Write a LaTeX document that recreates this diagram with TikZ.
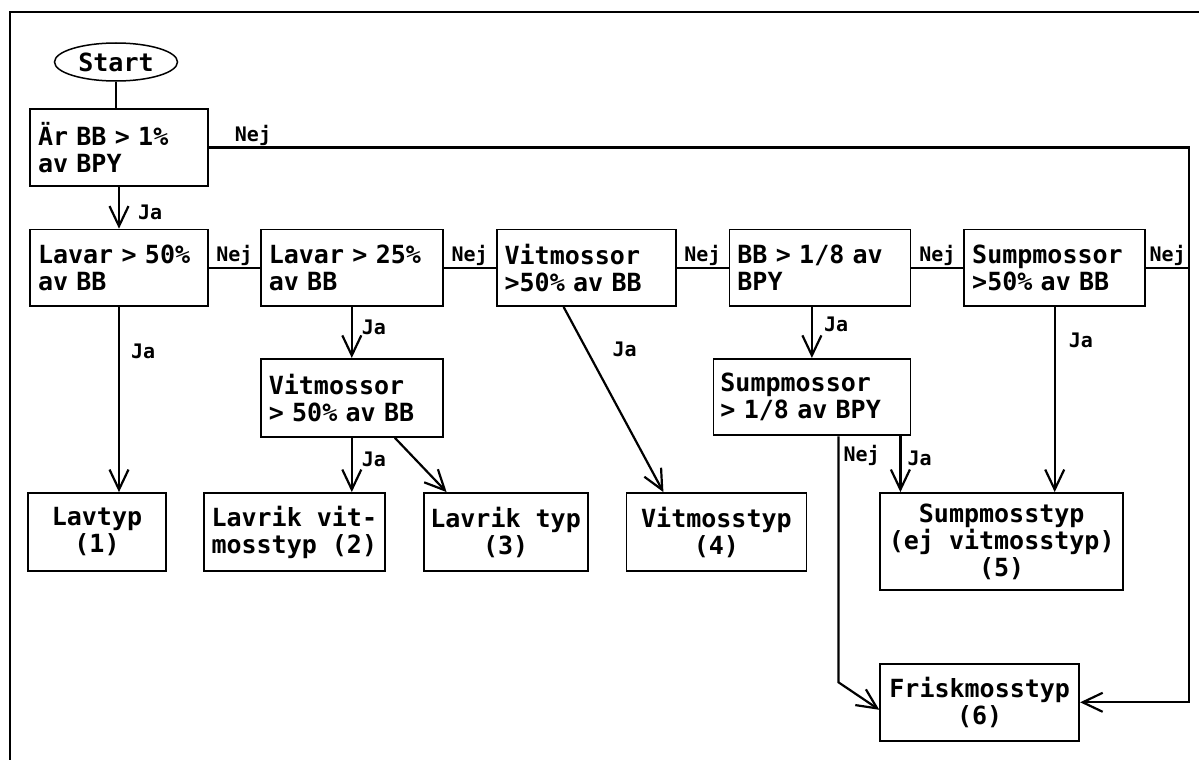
\documentclass[tikz,border=0pt]{standalone}
\usepackage{fontspec}
\newfontfamily\boxfam{DejaVu Sans Mono Bold}
\usepackage{tikz}
\usetikzlibrary{arrows.meta,positioning,shapes.geometric,calc}
\newcommand{\boxfont}{\boxfam\fontsize{25}{27}\selectfont}
\newcommand{\lblfont}{\boxfam\fontsize{20}{22}\selectfont}
\tikzset{
  askbox/.style={draw,line width=1.8pt,align=left,minimum height=76.5pt,
                 inner xsep=8pt,inner ysep=2pt,font=\boxfont},
  typebox/.style={draw,line width=1.8pt,align=center,minimum height=78pt,
                  inner sep=2pt,font=\boxfont},
  startnode/.style={draw,ellipse,line width=1.5pt,minimum width=123pt,
                    minimum height=38pt,inner sep=0pt,font=\boxfont},
  link/.style={line width=2.2pt},
  flow/.style={link,-{Straight Barb[length=20pt,width=19pt]}},
  lbl/.style={font=\lblfont,inner sep=1pt},
  frame/.style={line width=1.2pt},
}
\begin{document}
\begin{tikzpicture}[x=1pt,y=-1pt,node distance=42pt and 52pt]
\useasboundingbox (0,0) rectangle (1199,760);
\draw[frame] (10,760) -- (10,12) -- (1199,12);

% --- questions ---
\node[startnode] (start) at (116,62) {Start};
\node[askbox, text width=162pt] (q1) at (119,147.5) {Är BB > 1\%\\av BPY};
\node[askbox, text width=162pt, below=42pt of q1] (q2) {Lavar > 50\%\\av BB};
\node[askbox, text width=166pt, right=51pt of q2] (q3) {Lavar > 25\%\\av BB};
\node[askbox, text width=163pt, right=of q3] (q4) {Vitmossor\\>50\% av BB};
\node[askbox, text width=165pt, right=of q4] (q5) {BB > 1/8 av\\BPY};
\node[askbox, text width=165pt, right=of q5] (q6) {Sumpmossor\\>50\% av BB};
\node[askbox, text width=166pt, minimum height=78pt, below=51pt of q3] (q7) {Vitmossor\\> 50\% av BB};
\node[askbox, text width=183pt, inner xsep=7pt, below=51pt of q5.south east, anchor=north east] (q8)
  {Sumpmossor\\> 1/8 av BPY};

% --- types ---
\node[typebox, minimum width=138pt] (r1) at (97,532) {Lavtyp\\(1)};
\node[typebox, minimum width=181pt, right=36pt of r1] (r2) {Lavrik vit-\\mosstyp (2)};
\node[typebox, minimum width=164pt, right=37pt of r2] (r3) {Lavrik typ\\(3)};
\node[typebox, minimum width=180pt, right=37pt of r3] (r4) {Vitmosstyp\\(4)};
\node[typebox, minimum width=243pt, minimum height=97pt, right=72pt of r4.north east, anchor=north west] (r5)
  {Sumpmosstyp\\(ej vitmosstyp)\\(5)};
\node[typebox, minimum width=199pt, minimum height=77pt, below=72pt of r5.south west, anchor=north west] (r6)
  {Friskmosstyp\\(6)};

\coordinate (rail) at (1189,151);

% --- connectors ---
\draw[link] (start.south) -- (start.south |- q1.north);
\draw[flow] (q1.south) -- node[lbl, right=17pt, pos=0.6] (ja1) {Ja} (q2.north);
\draw[flow] (q1.east) -- node[lbl, above, pos=0.045] (nej1) {Nej} (q1.east -| rail) |- (r6.east);

\foreach \a/\b in {q2/q3, q3/q4, q4/q5, q5/q6}
  \draw[link] (\a) -- node[lbl, above] (nej-\a) {Nej} (\b);
\draw[link] (q6) -- node[lbl, above] (nej-q6) {Nej} (q6 -| rail);

\draw[flow] (q2.south) -- node[lbl, right=10pt, pos=0.24] (ja2) {Ja} (q2.south |- r1.north);
\draw[flow] (q3.south) -- node[lbl, right=8pt, pos=0.4] (ja3) {Ja} (q7.north);
\draw[flow] (q7.south) -- node[lbl, right=8pt, pos=0.4] (ja7) {Ja} (q7.south |- r2.north);
\draw[flow] ([xshift=43pt]q7.south) -- ([xshift=-59pt]r3.north);
\draw[flow] ([xshift=-22.5pt]q4.south) -- node[lbl, right=24pt, pos=0.23] (ja4) {Ja} ([xshift=-53pt]r4.north);
\draw[flow] (q8.north |- q5.south) -- node[lbl, right=10pt, pos=0.35] (ja5) {Ja} (q8.north);
\draw[flow] (q6.south) -- node[lbl, right=12pt, pos=0.18] (ja6) {Ja} (q6.south |- r5.north);
\draw[flow] ([xshift=88.5pt]q8.south) -- node[lbl, right=5pt, pos=0.4] (ja8) {Ja}
  ([xshift=88.5pt]q8.south |- r5.north);
\draw[flow] ([xshift=26.5pt]q8.south) -- node[lbl, right=3pt, pos=0.08] (nej8) {Nej}
  ++(0,246) -- ([yshift=-7.5pt]r6.west);

\end{tikzpicture}
\end{document}
